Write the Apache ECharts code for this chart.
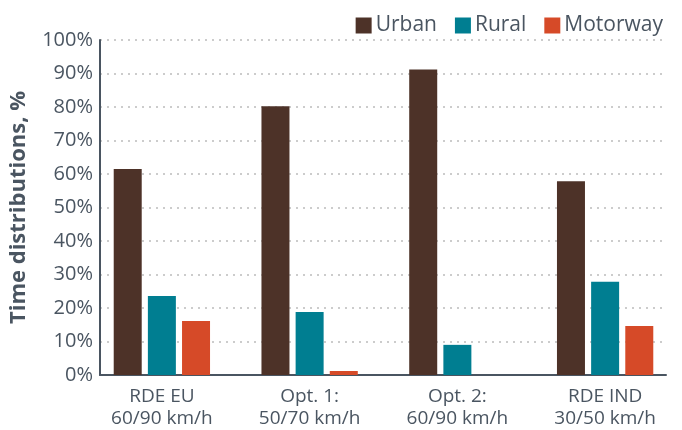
<!DOCTYPE html>
<html>
<head>
<meta charset="utf-8">
<script src="https://cdn.jsdelivr.net/npm/echarts@6/dist/echarts.min.js"></script>
<style>
  html, body { margin: 0; padding: 0; background: #fff; }
  #chart { width: 682px; height: 430px; }
</style>
</head>
<body>
<div id="chart"></div>
<script>
// categories and values
const categories = ['RDE EU\n60/90 km/h', 'Opt. 1:\n50/70 km/h', 'Opt. 2:\n60/90 km/h', 'RDE IND\n30/50 km/h']
const urban = [61.5, 80.2, 91.2, 57.8]
const rural = [23.6, 18.8, 9.0, 27.8]
const motorway = [16.1, 1.2, 0, 14.6]

const textColor = '#4a5561'
const fontFamily = '"Open Sans", Lato, sans-serif'

const chart = echarts.init(document.getElementById('chart'))

function bar(name, data, color) {
  return {
    name: name,
    type: 'bar',
    data: data,
    xAxisIndex: 0,
    yAxisIndex: 0,
    barWidth: 28,
    barGap: '22%',
    itemStyle: { color: color }
  }
}

chart.setOption({
  animation: false,
  textStyle: { fontFamily: fontFamily },
  legend: {
    right: 14,
    top: 10,
    itemWidth: 16,
    itemHeight: 16,
    itemGap: 18,
    icon: 'rect',
    textStyle: { color: textColor, fontSize: 21, fontFamily: fontFamily, padding: [0, 0, 0, -1] },
    data: ['Urban', 'Rural', 'Motorway']
  },
  // grid 0 holds the bars (category bands slightly wider than the drawn axes),
  // grid 1 draws the visible axes, ticks and dotted gridlines
  grid: [
    { left: 88, right: 3, top: 40, bottom: 55 },
    { left: 97, right: 16, top: 40, bottom: 55 }
  ],
  xAxis: [
    {
      type: 'category',
      gridIndex: 0,
      data: categories,
      axisLine: { show: false },
      axisTick: { show: false },
      axisLabel: { color: textColor, fontSize: 19, lineHeight: 22, margin: 11 }
    },
    {
      type: 'category',
      gridIndex: 1,
      data: categories,
      axisLine: { lineStyle: { color: '#4a5561', width: 2 } },
      axisTick: { show: false },
      axisLabel: { show: false }
    }
  ],
  yAxis: [
    {
      type: 'value',
      gridIndex: 0,
      min: 0,
      max: 100,
      show: false
    },
    {
      type: 'value',
      gridIndex: 1,
      min: 0,
      max: 100,
      interval: 10,
      name: 'Time distributions, %',
      nameLocation: 'middle',
      nameGap: 70,
      nameTextStyle: { color: textColor, fontSize: 22, fontWeight: 'bold' },
      axisLine: { show: true, lineStyle: { color: '#4a5561', width: 2 } },
      axisTick: { show: false },
      axisLabel: { color: textColor, fontSize: 20, formatter: '{value}%', margin: 7 },
      splitLine: { lineStyle: { color: '#cccccc', type: [2, 5], width: 2 } }
    }
  ],
  series: [
    bar('Urban', urban, '#4d3228'),
    bar('Rural', rural, '#007e91'),
    bar('Motorway', motorway, '#d64a28')
  ]
})
</script>
</body>
</html>
